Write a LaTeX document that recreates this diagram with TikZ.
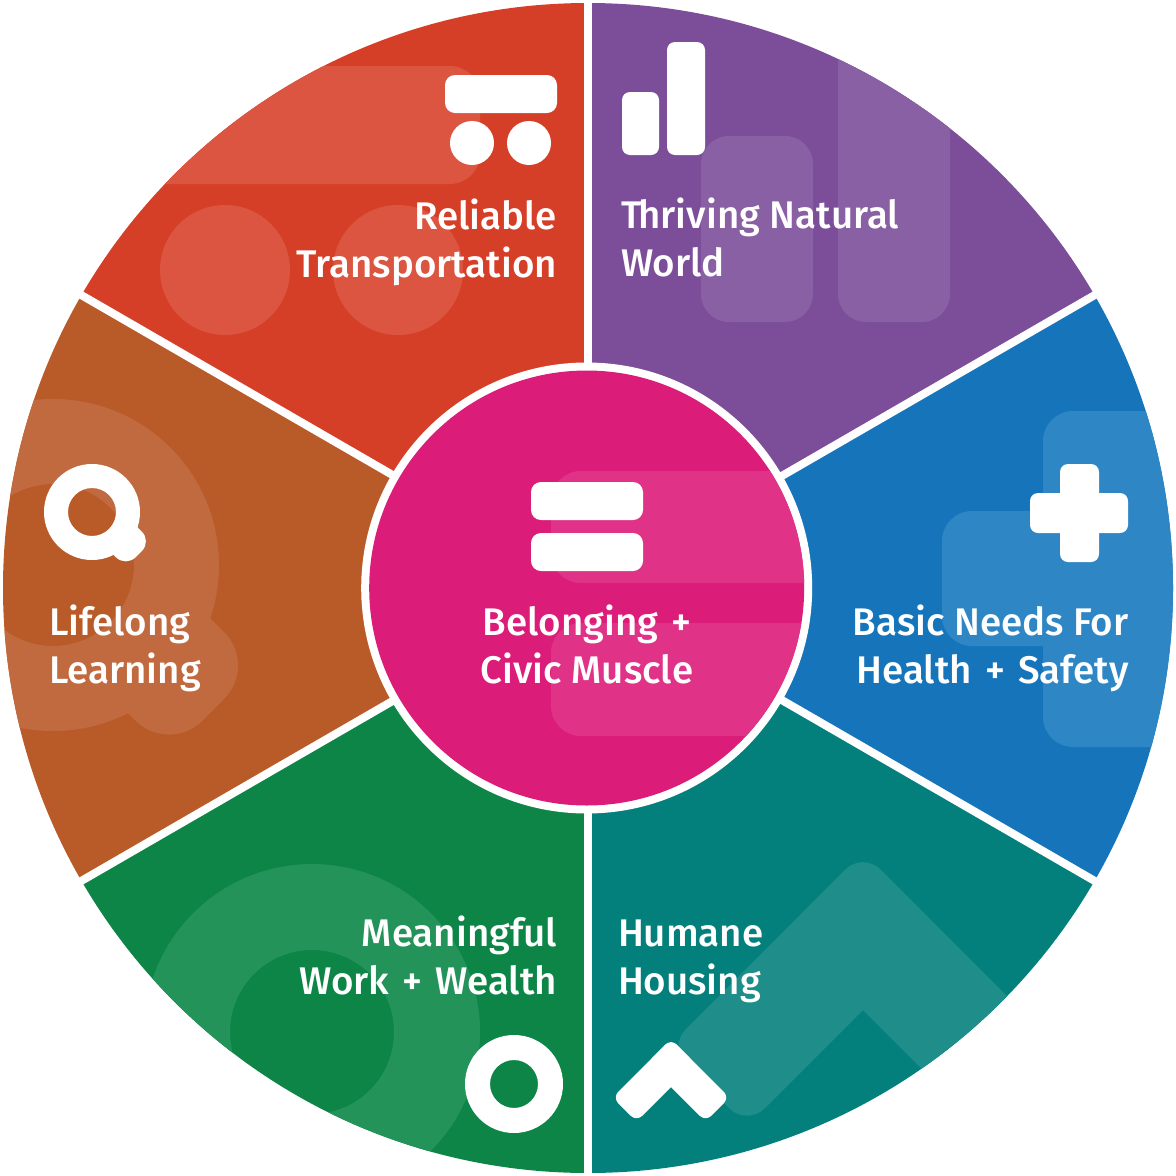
\documentclass[tikz,border=0pt]{standalone}
\usepackage{fontspec}
\newfontfamily\lblfont{Fira Sans Medium}
\definecolor{cred}{HTML}{D63F27}\definecolor{credl}{HTML}{DC5540}
\definecolor{cpur}{HTML}{7C4E9A}\definecolor{cpurl}{HTML}{8A60A5}
\definecolor{cblu}{HTML}{1675BA}\definecolor{cblul}{HTML}{2E86C4}
\definecolor{ctea}{HTML}{04807C}\definecolor{ctea2}{HTML}{1F8E8A}
\definecolor{cgre}{HTML}{0D8547}\definecolor{cgrel}{HTML}{24935A}
\definecolor{cbro}{HTML}{B95B28}\definecolor{cbrol}{HTML}{C26A3F}
\definecolor{cpin}{HTML}{DC1C79}\definecolor{cpinl}{HTML}{E03388}
\tikzset{
  lbl/.style={text=white,font=\fontsize{38.5}{47.5}\selectfont\lblfont,inner sep=0pt,outer sep=0pt},
  lleft/.style={lbl,align=left,anchor=base west},
  lright/.style={lbl,align=right,anchor=base east},
  lmid/.style={lbl,align=center,anchor=base},
  sep/.style={draw=white,line width=8pt},
}
\newcommand{\wheelclip}{\clip (588,588) circle[radius=585];}
\newcommand{\pl}{\kern3.5pt{} + \kern3.5pt{}}
\begin{document}
\begin{tikzpicture}[x=1pt,y=-1pt]
\useasboundingbox (0,0) rectangle (1176,1176);
\coordinate (C) at (588,588);
\coordinate (N) at (588,0);
\coordinate (S) at (588,1176);
\coordinate (NE) at (1100,292);
\coordinate (SE) at (1100,884);
\coordinate (NW) at (76,292);
\coordinate (SW) at (76,884);
% purple
\begin{scope}
\clip (C) -- (588,-300) -- (1500,-300) -- (1281,188) -- cycle; \wheelclip
\fill[cpur] (0,0) rectangle (1176,1176);
\fill[cpurl,rounded corners=28] (701,136) rectangle (813,322);
\fill[cpurl,rounded corners=28] (838,-50) rectangle (950,322);
\fill[white,rounded corners=8] (622,92) rectangle (659,155);
\fill[white,rounded corners=8] (667,42) rectangle (705,155);
\end{scope}
% blue
\begin{scope}
\clip (C) -- (1281,188) -- (1500,188) -- (1500,988) -- (1281,988) -- cycle; \wheelclip
\fill[cblu] (0,0) rectangle (1176,1176);
\fill[cblul,rounded corners=30] (1043,411) rectangle (1250,747);
\fill[cblul,rounded corners=30] (942,511) rectangle (1100,646);
\fill[white,rounded corners=8] (1060,464) rectangle (1099,562);
\fill[white,rounded corners=8] (1030,493) rectangle (1128,533);
\end{scope}
% teal
\begin{scope}
\clip (C) -- (1281,988) -- (1500,1500) -- (588,1500) -- cycle; \wheelclip
\fill[ctea] (0,0) rectangle (1176,1176);
\fill[ctea2,rounded corners=25] (863,852) -- (668,1047) -- (747,1126) -- (942,931) -- cycle;
\fill[ctea2,rounded corners=25] (863,852) -- (1058,1047) -- (979,1126) -- (784,931) -- cycle;
\fill[white,rounded corners=8] (671,1039) -- (612.5,1097.5) -- (636.5,1121.5) -- (695,1063) -- cycle;
\fill[white,rounded corners=8] (671,1039) -- (729.5,1097.5) -- (705.5,1121.5) -- (647,1063) -- cycle;
\end{scope}
% green
\begin{scope}
\clip (C) -- (588,1500) -- (-300,1500) -- (-105,988) -- cycle; \wheelclip
\fill[cgre] (0,0) rectangle (1176,1176);
\fill[cgrel,even odd rule] (312,1032) circle[radius=168] (312,1032) circle[radius=82];
\fill[white,even odd rule] (514,1084) circle[radius=49] (514,1084) circle[radius=24];
\end{scope}
% brown
\begin{scope}
\clip (C) -- (-105,988) -- (-300,988) -- (-300,188) -- (-105,188) -- cycle; \wheelclip
\fill[cbro] (0,0) rectangle (1176,1176);
\fill[cbrol,even odd rule] (53,565) circle[radius=166] (53,565) circle[radius=81];
\fill[cbrol] (166,574) [rounded corners=47] -- (257.5,665.5) -- (169,754) [sharp corners] -- (77.5,662.5) -- cycle;
\fill[white,even odd rule] (92,512) circle[radius=48] (92,512) circle[radius=24];
\fill[white] (127,517) [rounded corners=13.7] -- (151.6,541.3) -- (125.8,567) [sharp corners] -- (101,542.5) -- cycle;
\end{scope}
% red
\begin{scope}
\clip (C) -- (-105,188) -- (-300,-300) -- (588,-300) -- cycle; \wheelclip
\fill[cred] (0,0) rectangle (1176,1176);
\fill[credl,rounded corners=30] (0,66) rectangle (480,184);
\fill[credl] (225,270) circle[radius=65] (398,270) circle[radius=65];
\fill[white,rounded corners=10] (445,75) rectangle (557,113);
\fill[white] (472,143) circle[radius=22] (529,143) circle[radius=22];
\end{scope}
% separators
\draw[sep] (C) -- (N);
\draw[sep] (C) -- (S);
\draw[sep] (C) -- (NE);
\draw[sep] (C) -- (SE);
\draw[sep] (C) -- (NW);
\draw[sep] (C) -- (SW);
% hub
\fill[white] (586.7,588) circle[radius=225.5];
\begin{scope}
\clip (586.7,588) circle[radius=217.5];
\fill[cpin] (300,300) rectangle (900,900);
\fill[cpinl,rounded corners=30] (551,471) rectangle (900,583);
\fill[cpinl,rounded corners=30] (551,623) rectangle (900,736);
\fill[white,rounded corners=10] (531,482) rectangle (643,520);
\fill[white,rounded corners=10] (531,533) rectangle (643,571);
\end{scope}
% labels
\node[lright] (t1) at (557,277) {Reliable\\Transportation};
\node[lleft] (t2) at (621,276) {T\kern-3pt{}hriving Natural\\World};
\node[lright] (t3) at (1128.5,683) {Basic Needs For\\Health\pl Safety};
\node[lleft] (t4) at (618,994) {Humane\\Housing};
\node[lright] (t5) at (557,994) {Meaningful\\Work\pl Wealth};
\node[lleft] (t6) at (49,683) {Lifelong\\Learning};
\node[lmid] (t7) at (587,683) {Belonging\kern3.5pt{} +\\Civic Muscle};
\end{tikzpicture}
\end{document}
